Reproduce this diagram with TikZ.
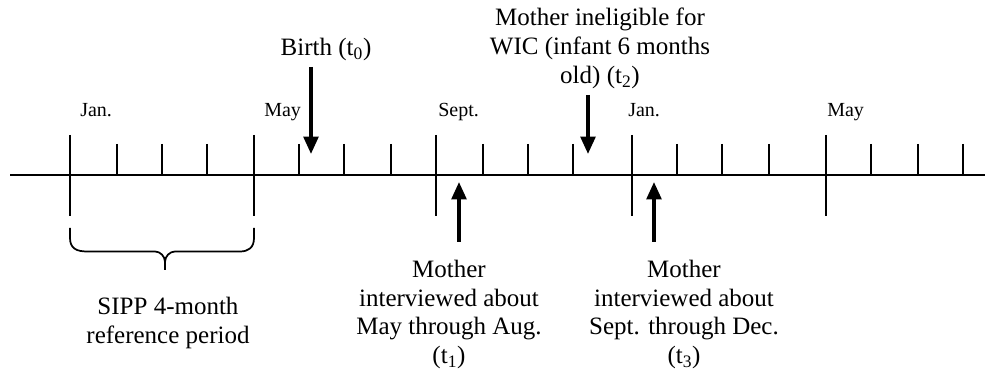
\documentclass[tikz,border=0pt]{standalone}
\usepackage{fontspec}
\setmainfont{Liberation Serif}
\usetikzlibrary{arrows.meta}
\begin{document}
\begin{tikzpicture}[x=0.75pt,y=-0.75pt,
  axisline/.style={line width=1.3pt},
  tickmark/.style={line width=1.3pt},
  bigtext/.style={font=\fontsize{18.75}{21.75}\selectfont, align=center, inner sep=0pt},
  monthlabel/.style={font=\fontsize{15}{18}\selectfont, inner sep=0pt, anchor=base west},
  eventarrow/.style={line width=2.6pt, -{Triangle[width=11pt,length=13pt]}},
  bracepath/.style={line width=1.3pt, line join=round},
]
\useasboundingbox (0,0) rectangle (985,377);
% timeline
\coordinate (L) at (10,175);
\coordinate (R) at (985,175);
\draw[axisline] (L) -- (R);
\foreach \x in {70,254,436,632,826} \draw[tickmark] (\x,135) -- (\x,216);
\foreach \x in {117,162,207,299,344,391,483,528,573,677,722,769,871,918,963} \draw[tickmark] (\x,144) -- (\x,175);
% month labels
\node[monthlabel] (jan1) at (80,117) {Jan.};
\node[monthlabel] (may1) at (264,117) {May};
\node[monthlabel] (sep1) at (438,117) {Sept.};
\node[monthlabel] (jan2) at (628,117) {Jan.};
\node[monthlabel] (may2) at (827,117) {May};
% top texts (anchor base = last line's baseline)
\node[bigtext, anchor=base] (birth) at (326,55.5) {Birth (t\textsubscript{0})};
\node[bigtext, anchor=base] (inelig) at (600,84) {Mother ineligible for\\WIC (infant 6 months\\old) (t\textsubscript{2})};
% arrows
\coordinate (a0s) at (311,67);  \coordinate (a0e) at (311,154);
\coordinate (a2s) at (588,95);  \coordinate (a2e) at (588,154);
\coordinate (a1s) at (459,242); \coordinate (a1e) at (459,182);
\coordinate (a3s) at (654,242); \coordinate (a3e) at (654,182);
\draw[eventarrow] (a0s) -- (a0e);
\draw[eventarrow] (a2s) -- (a2e);
\draw[eventarrow] (a1s) -- (a1e);
\draw[eventarrow] (a3s) -- (a3e);
% bottom texts
\node[bigtext, anchor=base] (int1) at (449,364) {Mother\\interviewed about\\May through Aug.\\(t\textsubscript{1})};
\node[bigtext, anchor=base] (int3) at (684,364) {Mother\\interviewed about\\Sept. through Dec.\\(t\textsubscript{3})};
% brace
\draw[bracepath] (70,228) -- (70,238) .. controls (70,248) and (76,251.5) .. (87,251.5) -- (155,251.5)
  .. controls (160,251.5) and (165,256) .. (165,262) -- (165,270);
\draw[bracepath] (254,228) -- (254,238) .. controls (254,248) and (248,251.5) .. (240,251.5) -- (175,251.5)
  .. controls (170,251.5) and (165,256) .. (165,262);
\node[bigtext, anchor=base] (sipp) at (168,344) {SIPP 4-month\\reference period};
\end{tikzpicture}
\end{document}
